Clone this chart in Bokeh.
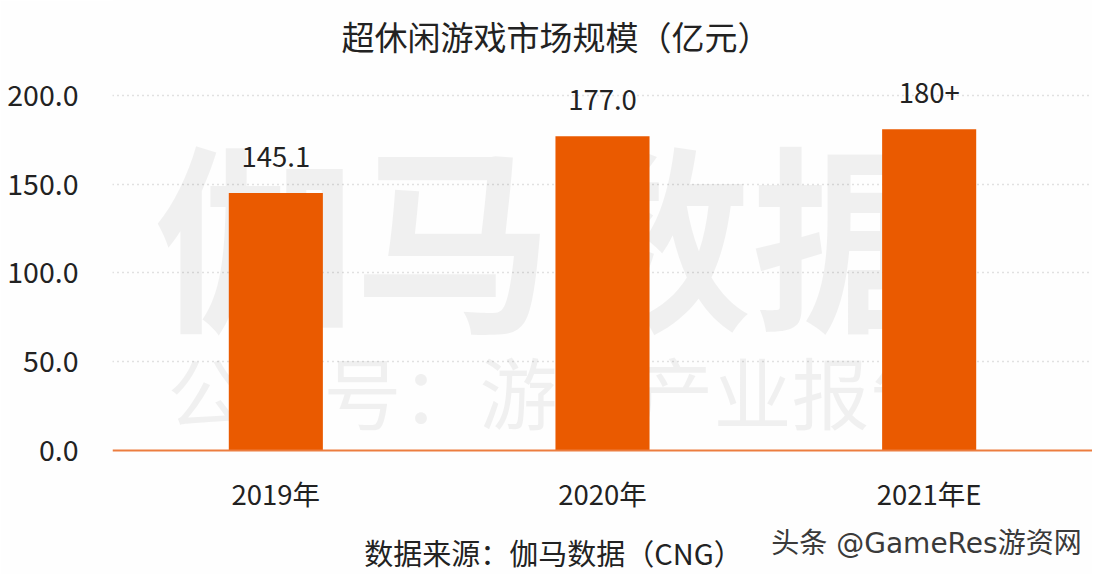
from bokeh.plotting import figure
from bokeh.models import ColumnDataSource, Label, FixedTicker, NumeralTickFormatter, FactorRange, Range1d
from bokeh.core.properties import value
from bokeh.embed import file_html
from bokeh.resources import INLINE

categories = ["2019年", "2020年", "2021年E"]
values = [145.1, 177.0, 181.0]
value_labels = ["145.1", "177.0", "180+"]
y_ticks = [0, 50, 100, 150, 200]
title_text = "超休闲游戏市场规模（亿元）"
source_text = "数据来源：伽马数据（CNG）"
credit_text = "头条 @GameRes游资网"
mark_big = "伽马数据"
mark_small = "公众号：游戏产业报告"

FONT = "Noto Sans CJK SC"
INK = "#222222"
ORANGE = "#ea5a00"
W, H, LEFT = 1092, 574, 112

p = figure(width=W, height=H, output_backend="svg", toolbar_location=None,
           x_range=FactorRange(factors=categories, range_padding=0),
           y_range=Range1d(-69.86, 253.5),
           min_border_left=LEFT, min_border_right=0, min_border_top=0, min_border_bottom=0,
           background_fill_color="#fefefe", border_fill_color="#fefefe", outline_line_color=None)

src = ColumnDataSource(dict(cat=categories, val=values, lab=value_labels))
p.vbar(x="cat", top="val", width=0.288, source=src, fill_color=ORANGE, line_color=None)
p.text(x="cat", y="val", text="lab", source=src, text_font=value(FONT), text_font_size="27.5px",
       text_color=INK, text_align="center", text_baseline="middle", y_offset=-36)

p.xgrid.visible = False
p.ygrid.grid_line_color = "#c4c4c4"
p.ygrid.grid_line_dash = "1 4"
p.ygrid.grid_line_width = 1.5
p.ygrid.ticker = FixedTicker(ticks=y_ticks[1:])

p.yaxis.ticker = FixedTicker(ticks=y_ticks)
p.yaxis.formatter = NumeralTickFormatter(format="0.0")
p.yaxis.axis_line_color = None
p.yaxis.major_tick_line_color = None
p.yaxis.minor_tick_line_color = None
p.yaxis.major_label_standoff = 28
p.yaxis.major_label_text_font = FONT
p.yaxis.major_label_text_font_size = "28.5px"
p.yaxis.major_label_text_color = INK

p.xaxis.fixed_location = 0
p.xaxis.axis_line_color = "#ec7d3f"
p.xaxis.axis_line_width = 2
p.xaxis.major_tick_line_color = None
p.xaxis.minor_tick_line_color = None
p.xaxis.major_label_standoff = 17
p.xaxis.major_label_text_font = FONT
p.xaxis.major_label_text_font_size = "27.5px"
p.xaxis.major_label_text_color = INK

def note(text, cx, cy, size, color=INK, alpha=1.0, level="annotation", font=FONT, style="normal"):
    p.add_layout(Label(x=cx - LEFT, y=H - cy, x_units="screen", y_units="screen", text=text,
                       text_font=font, text_font_size=size, text_color=color, text_alpha=alpha,
                       text_font_style=style, text_align="center", text_baseline="middle", level=level))

note(title_text, 555.5, 35, "33px")
note(source_text, 553, 551, "29px")
note(credit_text, 926, 543, "28px", color="#3a3a3a", font="DejaVu Sans, Noto Sans CJK SC")
note(mark_big, 552, 228, "199px", color="#000000", alpha=0.055, level="underlay", style="bold")
note(mark_small, 557, 389, "78px", color="#000000", alpha=0.055, level="underlay")

open("out.html", "w").write(file_html(p, INLINE))
